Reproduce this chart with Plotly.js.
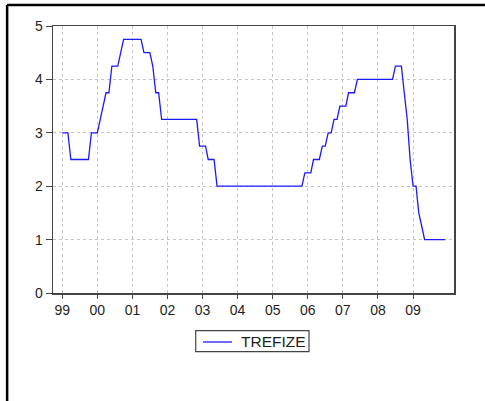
<!DOCTYPE html>
<html>
<head>
<meta charset="utf-8">
<script src="https://cdn.plot.ly/plotly-3.0.1.min.js"></script>
<style>
  html, body { margin: 0; padding: 0; background: #ffffff; }
  #chart { width: 485px; height: 401px; }
</style>
</head>
<body>
<div id="chart"></div>
<script>
// Monthly series, 1999M01 - 2009M12
var startYear = 1999;
var years = ["1999","2000","2001","2002","2003","2004","2005","2006","2007","2008","2009"];
var tickLabels = ["99","00","01","02","03","04","05","06","07","08","09"];
var seriesName = "TREFIZE";
var trefize = [
  3, 3, 3, 2.5, 2.5, 2.5, 2.5, 2.5, 2.5, 2.5, 3, 3,
  3, 3.25, 3.5, 3.75, 3.75, 4.25, 4.25, 4.25, 4.5, 4.75, 4.75, 4.75,
  4.75, 4.75, 4.75, 4.75, 4.5, 4.5, 4.5, 4.25, 3.75, 3.75, 3.25, 3.25,
  3.25, 3.25, 3.25, 3.25, 3.25, 3.25, 3.25, 3.25, 3.25, 3.25, 3.25, 2.75,
  2.75, 2.75, 2.5, 2.5, 2.5, 2, 2, 2, 2, 2, 2, 2,
  2, 2, 2, 2, 2, 2, 2, 2, 2, 2, 2, 2,
  2, 2, 2, 2, 2, 2, 2, 2, 2, 2, 2, 2.25,
  2.25, 2.25, 2.5, 2.5, 2.5, 2.75, 2.75, 3, 3, 3.25, 3.25, 3.5,
  3.5, 3.5, 3.75, 3.75, 3.75, 4, 4, 4, 4, 4, 4, 4,
  4, 4, 4, 4, 4, 4, 4.25, 4.25, 4.25, 3.75, 3.25, 2.5,
  2, 2, 1.5, 1.25, 1, 1, 1, 1, 1, 1, 1, 1
];

// monthly date labels for the observations
var dates = [];
for (var i = 0; i < trefize.length; i++) {
  var y = startYear + Math.floor(i / 12);
  var m = (i % 12) + 1;
  dates.push(y + "-" + (m < 10 ? "0" + m : m) + "-01");
}
var tickVals = years.map(function (yr) { return yr + "-01-01"; });

var lineColor = "#1a1aff";
var font = { family: "Liberation Sans, Arial, sans-serif", size: 14, color: "#1e1e1e" };

var trace = {
  type: "scatter",
  mode: "lines",
  x: dates,
  y: trefize,
  name: seriesName,
  line: { color: lineColor, width: 1.3 },
  showlegend: false
};

var layout = {
  width: 485,
  height: 401,
  margin: { l: 53, r: 31, t: 26, b: 108, pad: 0 },
  paper_bgcolor: "#ffffff",
  plot_bgcolor: "#ffffff",
  font: font,
  showlegend: false,
  xaxis: {
    type: "date",
    range: ["1998-09-27", "2010-03-03"],
    tickmode: "array",
    tickvals: tickVals,
    ticktext: tickLabels,
    ticks: "outside",
    ticklen: 4,
    tickwidth: 1,
    tickcolor: "#444444",
    showline: true,
    linecolor: "#444444",
    linewidth: 1.5,
    mirror: true,
    showgrid: true,
    gridcolor: "#c4c4c4",
    griddash: "dot",
    gridwidth: 1,
    zeroline: false,
    tickfont: font
  },
  yaxis: {
    range: [0, 5],
    tickmode: "linear",
    tick0: 0,
    dtick: 1,
    ticks: "outside",
    ticklen: 6,
    tickwidth: 1,
    tickcolor: "#444444",
    showline: true,
    linecolor: "#444444",
    linewidth: 1.5,
    mirror: true,
    showgrid: true,
    gridcolor: "#c4c4c4",
    griddash: "dot",
    gridwidth: 1,
    zeroline: false,
    tickfont: font
  },
  // legend box drawn below the plot, EViews style
  annotations: [
    { xref: "paper", yref: "paper", x: 0.4638, y: -0.1816,
      xanchor: "left", yanchor: "middle", showarrow: false,
      text: seriesName,
      font: { family: "Liberation Sans, Arial, sans-serif", size: 15.5, color: "#1e1e1e" } }
  ],
  shapes: [
    { type: "rect", xref: "paper", yref: "paper",
      x0: 0.3559, x1: 0.6384, y0: -0.1412, y1: -0.2199,
      fillcolor: "#ffffff", line: { color: "#444444", width: 1.2 } },
    { type: "line", xref: "paper", yref: "paper",
      x0: 0.374, x1: 0.4464, y0: -0.1835, y1: -0.1835,
      line: { color: lineColor, width: 1.3 } },
    { type: "line", xref: "paper", yref: "paper",
      x0: -0.1144, x1: 1.08, y0: 1.0787, y1: 1.0787,
      line: { color: "#000000", width: 2.5 } },
    { type: "line", xref: "paper", yref: "paper",
      x0: -0.1144, x1: -0.1144, y0: 1.0787, y1: -0.41,
      line: { color: "#000000", width: 2.5 } }
  ]
};

Plotly.newPlot("chart", [trace], layout, { displayModeBar: false, staticPlot: true });
</script>
</body>
</html>
